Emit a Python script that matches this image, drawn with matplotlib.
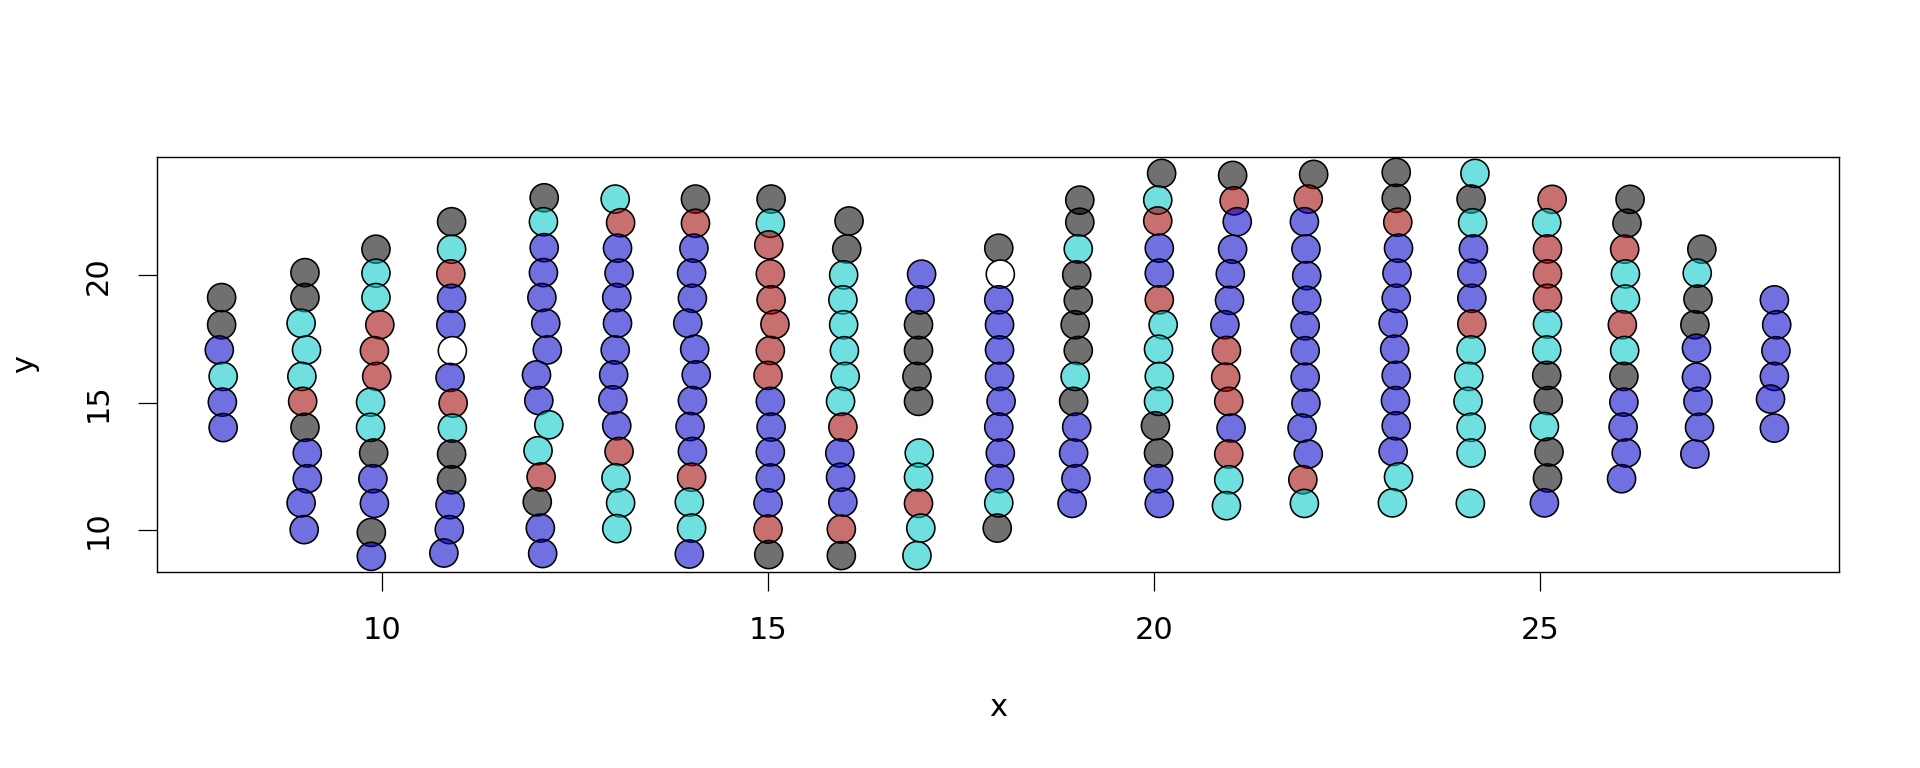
import matplotlib
matplotlib.use("Agg")
import matplotlib.pyplot as plt
import numpy as np

# Jittered points, one group of lists per x column
# group codes: K = gray/black, C = cyan, R = red, B = blue, W = white
x = [
    7.92, 7.92, 7.89, 7.94, 7.93, 7.94,
    9.00, 9.00, 8.95, 9.02, 8.96, 8.97, 9.00, 9.03, 9.03, 8.95, 8.99,
    9.92, 9.92, 9.92, 9.97, 9.90, 9.93, 9.85, 9.85, 9.89, 9.88, 9.90, 9.86, 9.86,
    10.90, 10.90, 10.89, 10.90, 10.89, 10.91, 10.88, 10.92, 10.91, 10.90, 10.90, 10.88, 10.87, 10.80,
    12.10, 12.09, 12.10, 12.09, 12.07, 12.12, 12.14, 12.00, 12.03, 12.16, 12.02, 12.06, 12.01, 12.05, 12.08,
    13.02, 13.09, 13.05, 13.07, 13.04, 13.05, 13.02, 13.00, 12.99, 13.04, 13.07, 13.03, 13.09, 13.04,
    14.06, 14.06, 14.04, 14.01, 14.02, 13.96, 14.05, 14.07, 14.02, 13.99, 14.02, 14.01, 13.98, 14.01, 13.98,
    15.04, 15.03, 15.01, 15.03, 15.04, 15.09, 15.03, 15.00, 15.03, 15.04, 15.03, 15.03, 15.00, 15.00, 15.01,
    16.05, 16.02, 15.98, 15.97, 15.98, 15.99, 16.00, 15.94, 15.97, 15.93, 15.94, 15.97, 15.95, 15.95,
    16.99, 16.97, 16.95, 16.95, 16.93, 16.95, 16.96, 16.95, 16.95, 16.98, 16.93,
    17.99, 18.01, 17.99, 18.00, 18.00, 18.00, 18.02, 17.99, 18.01, 18.00, 17.99, 17.97,
    19.04, 19.04, 19.02, 19.00, 19.02, 18.98, 19.02, 18.98, 18.96, 19.00, 18.96, 18.99, 18.94,
    20.10, 20.05, 20.05, 20.07, 20.07, 20.07, 20.12, 20.06, 20.07, 20.06, 20.02, 20.06, 20.06, 20.07,
    21.02, 21.04, 21.08, 21.02, 20.99, 20.98, 20.92, 20.94, 20.93, 20.97, 21.00, 20.97, 20.97, 20.94,
    22.07, 22.00, 21.95, 21.97, 21.98, 21.98, 21.96, 21.96, 21.96, 21.97, 21.92, 22.00, 21.93, 21.95,
    23.14, 23.14, 23.16, 23.17, 23.15, 23.14, 23.10, 23.12, 23.14, 23.13, 23.14, 23.10, 23.17, 23.09,
    24.16, 24.11, 24.13, 24.14, 24.12, 24.12, 24.12, 24.11, 24.08, 24.07, 24.11, 24.11, 24.10,
    25.16, 25.09, 25.10, 25.10, 25.10, 25.10, 25.09, 25.09, 25.11, 25.06, 25.12, 25.10, 25.06,
    26.17, 26.13, 26.10, 26.11, 26.11, 26.07, 26.10, 26.09, 26.09, 26.08, 26.12, 26.06,
    27.10, 27.04, 27.05, 27.01, 27.03, 27.03, 27.05, 27.07, 27.01,
    28.04, 28.07, 28.06, 28.04, 27.99, 28.04,
]
y = [
    19.13, 18.06, 17.07, 16.03, 15.02, 14.02,
    20.11, 19.13, 18.12, 17.07, 16.03, 15.05, 14.03, 13.02, 12.01, 11.06, 10.01,
    21.03, 20.09, 19.13, 18.06, 17.04, 16.03, 15.02, 14.03, 13.02, 12.01, 11.04, 9.90, 8.96,
    22.11, 21.03, 20.06, 19.10, 18.06, 17.04, 15.99, 14.98, 14.00, 12.98, 11.97, 10.99, 10.01, 9.09,
    23.05, 22.11, 21.09, 20.11, 19.13, 18.12, 17.07, 16.09, 15.08, 14.13, 13.11, 12.08, 11.10, 10.07, 9.07,
    23.00, 22.07, 21.07, 20.09, 19.13, 18.12, 17.07, 16.09, 15.11, 14.09, 13.08, 12.04, 11.06, 10.05,
    23.00, 22.05, 21.07, 20.09, 19.10, 18.12, 17.10, 16.09, 15.08, 14.06, 13.08, 12.07, 11.09, 10.07, 9.05,
    23.00, 22.05, 21.20, 20.06, 19.04, 18.08, 17.05, 16.07, 15.05, 14.04, 13.06, 12.04, 11.06, 10.03, 9.03,
    22.14, 21.04, 20.02, 19.04, 18.06, 17.04, 16.03, 15.05, 14.04, 13.02, 12.07, 11.09, 10.03, 8.99,
    20.05, 19.04, 18.06, 17.05, 16.03, 15.05, 13.02, 12.07, 11.04, 10.07, 8.99,
    21.07, 20.05, 19.04, 18.06, 17.07, 16.03, 15.05, 14.04, 13.02, 12.01, 11.06, 10.07,
    22.96, 22.09, 21.04, 20.02, 19.02, 18.06, 17.05, 16.03, 15.05, 14.04, 13.02, 12.01, 11.04,
    24.01, 22.96, 22.14, 21.07, 20.09, 19.04, 18.06, 17.10, 16.03, 15.05, 14.09, 13.02, 12.01, 11.04,
    23.93, 22.93, 22.11, 21.03, 20.06, 19.02, 18.06, 17.05, 16.00, 15.05, 14.00, 12.98, 11.97, 10.95,
    23.97, 23.00, 22.11, 21.04, 19.99, 19.02, 18.02, 17.04, 16.00, 14.98, 14.00, 12.98, 11.97, 11.04,
    24.05, 23.03, 22.09, 21.07, 20.09, 19.10, 18.12, 17.10, 16.07, 15.08, 14.09, 13.08, 12.08, 11.06,
    24.01, 23.00, 22.07, 21.04, 20.09, 19.10, 18.09, 17.07, 16.03, 15.05, 14.03, 13.02, 11.04,
    22.99, 22.07, 21.04, 20.06, 19.10, 18.09, 17.07, 16.07, 15.08, 14.06, 13.06, 12.04, 11.06,
    22.99, 22.05, 21.03, 20.06, 19.07, 18.06, 17.05, 16.03, 15.02, 14.04, 13.02, 12.01,
    21.03, 20.09, 19.07, 18.06, 17.14, 16.00, 15.05, 14.03, 12.98,
    19.04, 18.06, 17.04, 16.03, 15.14, 14.00,
]
group = (
    "KKBCBB"
    "KKCCCRKBBBB"
    "KCCRRRCCKBBKB"
    "KCRBBWBRCKKBBB"
    "KCBBBBBBBCCRKBB"
    "CRBBBBBBBBRCCC"
    "KRBBBBBBBBBRCCB"
    "KCRRRRRRBBBBBRK"
    "KKCCCCCCRBBBRK"
    "BBKKKKCCRCC"
    "KWBBBBBBBBCK"
    "KKCKKKKCKBBBB"
    "KCRBBRCCCCKKBB"
    "KRBBBBBRRRBRCC"
    "KRBBBBBBBBBBRC"
    "KKRBBBBBBBBBCC"
    "CKCBBBRCCCCCC"
    "RCRRRCCKKCKKB"
    "KKRCCRCKBBBB"
    "KCKKBBBBB"
    "BBBBBB"
)

alpha = 0.56
fills = {
    "K": (0.0, 0.0, 0.0, alpha),
    "C": (0.0, 0.78, 0.78, alpha),
    "R": (0.62, 0.0, 0.0, alpha),
    "B": (0.0, 0.0, 0.79, alpha),
    "W": (1.0, 1.0, 1.0, 1.0),
}

plt.rcParams["font.family"] = ["DejaVu Sans"]

fig = plt.figure(figsize=(19.2, 7.68), dpi=100)
ax = fig.add_axes([157 / 1920, 1 - 571.7 / 768, (1839 - 157) / 1920, (571.7 - 157) / 768])

xa = np.array(x)
ya = np.array(y)
face = [fills[g] for g in group]
ax.scatter(xa, ya, s=410, c=face, edgecolors="black", linewidths=1.15, zorder=3)

xr = xa.max() - xa.min()
yr = ya.max() - ya.min()
ax.set_xlim(xa.min() - 0.04 * xr, xa.max() + 0.04 * xr)
ax.set_ylim(ya.min() - 0.04 * yr, ya.max() + 0.04 * yr)

ax.set_xticks([10, 15, 20, 25])
ax.set_yticks([10, 15, 20])
ax.tick_params(axis="both", direction="out", length=13.7, width=0.9, labelsize=22, pad=18)
for lab in ax.get_yticklabels():
    lab.set_rotation(90)
    lab.set_va("center")
for sp in ax.spines.values():
    sp.set_linewidth(1.0)

ax.set_xlabel("x", fontsize=22, va="center")
ax.xaxis.set_label_coords(0.5, -(708 - 571.7) / 414.7)
ax.set_ylabel("y", fontsize=22, va="center")
ax.yaxis.set_label_coords(-(157 - 25) / 1682, 0.5)

fig.savefig("out.png", dpi=100)
